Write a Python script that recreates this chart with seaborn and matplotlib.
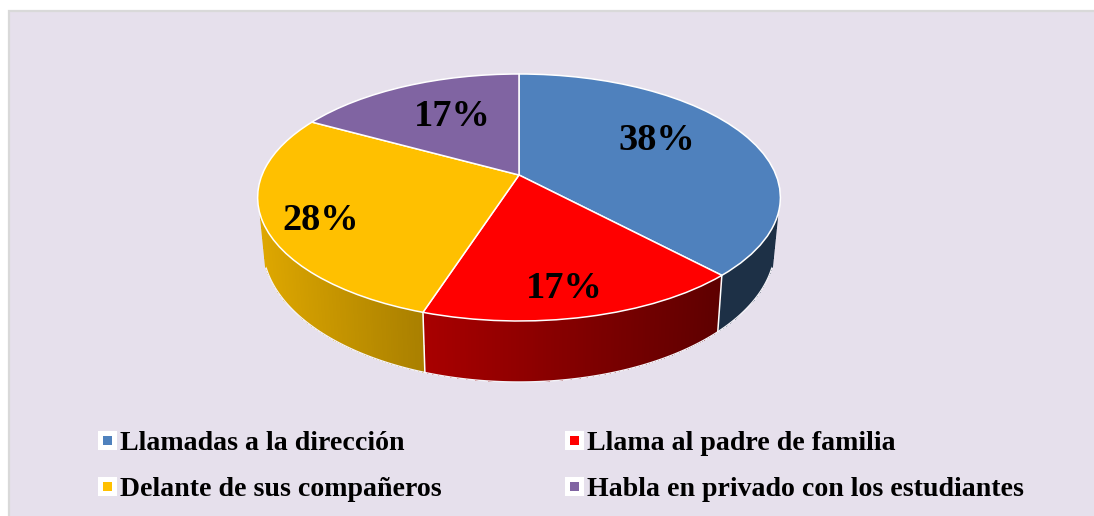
import numpy as np
import matplotlib
matplotlib.use("Agg")
import matplotlib.pyplot as plt
import seaborn as sns
from matplotlib.collections import PolyCollection
from matplotlib.lines import Line2D
from matplotlib.patches import Rectangle
from matplotlib.transforms import Transform

categories = ["Llamadas a la dirección", "Llama al padre de familia",
              "Delante de sus compañeros", "Habla en privado con los estudiantes"]
values = [38, 17, 28, 17]
colors = ["#4F81BD", "#FF0000", "#FFC000", "#8064A2"]

# Layout and perspective constants (pixels)
W, H = 1094, 516
CX, CY = 519, 175
A, B, K = 257, 119.4, 0.182
S_X, S_Y, DROP = 0.98, 1.1, 46.4
label_pos = [(656.5, 140), (564.5, 288), (320.5, 220), (452.5, 117)]
BG = "#E6E0EC"

sns.set_theme(style="white")
plt.rcParams["font.family"] = ["Liberation Serif", "DejaVu Serif"]
plt.rcParams["font.weight"] = "bold"


class Perspective(Transform):
    input_dims = output_dims = 2

    def transform_non_affine(self, xy):
        xy = np.asarray(xy, float)
        w = 1 + K * xy[:, 1]
        return np.column_stack([CX + A * xy[:, 0] / w, CY - B * xy[:, 1] / w])


persp = Perspective()


def top_rim(theta):
    pts = np.column_stack([np.sin(theta), np.cos(theta)])
    return persp.transform_non_affine(pts)


def bottom_rim(theta):
    p = top_rim(theta)
    return np.column_stack([CX + S_X * (p[:, 0] - CX),
                            CY + S_Y * (p[:, 1] - CY) + DROP])


def shade(x):
    return np.interp(x, [259, 424, 719], [0.87, 0.66, 0.37])


fig = plt.figure(figsize=(W / 100, H / 100), dpi=100, facecolor="white")
ax = fig.add_axes([0, 0, 1, 1])

wedges, _, autotexts = ax.pie(values, colors=colors, startangle=90, counterclock=False,
                              autopct="%d%%", radius=1,
                              wedgeprops=dict(edgecolor="white", linewidth=1.1, zorder=3),
                              textprops=dict(fontsize=27.6, color="black", fontweight="bold"))
for w in wedges:
    w.set_transform(persp + ax.transData)
for t, pos in zip(autotexts, label_pos):
    t.set_position(pos)
    t.set_zorder(5)

ax.set_aspect("auto")
ax.set_xlim(0, W)
ax.set_ylim(H, 0)
ax.axis("off")
ax.add_patch(Rectangle((8.5, 10.5), W + 20, H + 20, facecolor=BG, edgecolor="#D9D9D9",
                       linewidth=1.6, zorder=0))

# Extruded wall
LIMITS = np.radians([109, 251])
edges = np.cumsum([0] + values) / sum(values) * 2 * np.pi
for i, base in enumerate(colors):
    lo, hi = max(edges[i], LIMITS[0]), min(edges[i + 1], LIMITS[1])
    if hi <= lo:
        continue
    th = np.linspace(lo, hi, int(np.degrees(hi - lo) * 2) + 2)
    t, b = top_rim(th), bottom_rim(th)
    quads = [[t[j], t[j + 1], b[j + 1], b[j]] for j in range(len(th) - 1)]
    rgb = np.array(matplotlib.colors.to_rgb(base))
    mids = (t[:-1, 0] + t[1:, 0]) / 2
    fc = np.clip(rgb[None, :] * shade(mids)[:, None], 0, 1)
    ax.add_collection(PolyCollection(quads, facecolors=fc, edgecolors=fc, linewidths=0,
                                     antialiaseds=False, zorder=1))
    ax.plot(b[:, 0], b[:, 1], color="#F4F2F7", lw=1.0, zorder=2)
    # smooth the outer silhouette edges of the wall
    if lo == LIMITS[0]:
        ax.plot([t[0, 0], b[0, 0]], [t[0, 1], b[0, 1]], color=fc[0], lw=1.2, zorder=2)
    if hi == LIMITS[1]:
        ax.plot([t[-1, 0], b[-1, 0]], [t[-1, 1], b[-1, 1]], color=fc[-1], lw=1.2, zorder=2)
for e in edges[1:3]:
    seam_t, seam_b = top_rim(np.array([e])), bottom_rim(np.array([e]))
    ax.plot([seam_t[0, 0], seam_b[0, 0]], [seam_t[0, 1], seam_b[0, 1]], color="white", lw=1.1, zorder=2)

ax.set_xlim(0, W)
ax.set_ylim(H, 0)

handles = [Line2D([], [], linestyle="none", marker="s", markersize=9.4, markerfacecolor=c,
                  markeredgecolor="white", markeredgewidth=3.6) for c in colors]
# two columns, filled row by row
order = [0, 2, 1, 3]
leg = ax.legend([handles[i] for i in order], [categories[i] for i in order], ncol=2,
                loc="upper left", bbox_to_anchor=(0.085, 0.166), frameon=False,
                prop=dict(family="Liberation Serif", weight="bold", size=20.1),
                handlelength=1, handletextpad=-0.04, columnspacing=4.24, labelspacing=0.72,
                borderpad=0, borderaxespad=0)
for txt in leg.get_texts():
    txt.set_color("black")

fig.savefig("out.png", dpi=100, facecolor="white")
